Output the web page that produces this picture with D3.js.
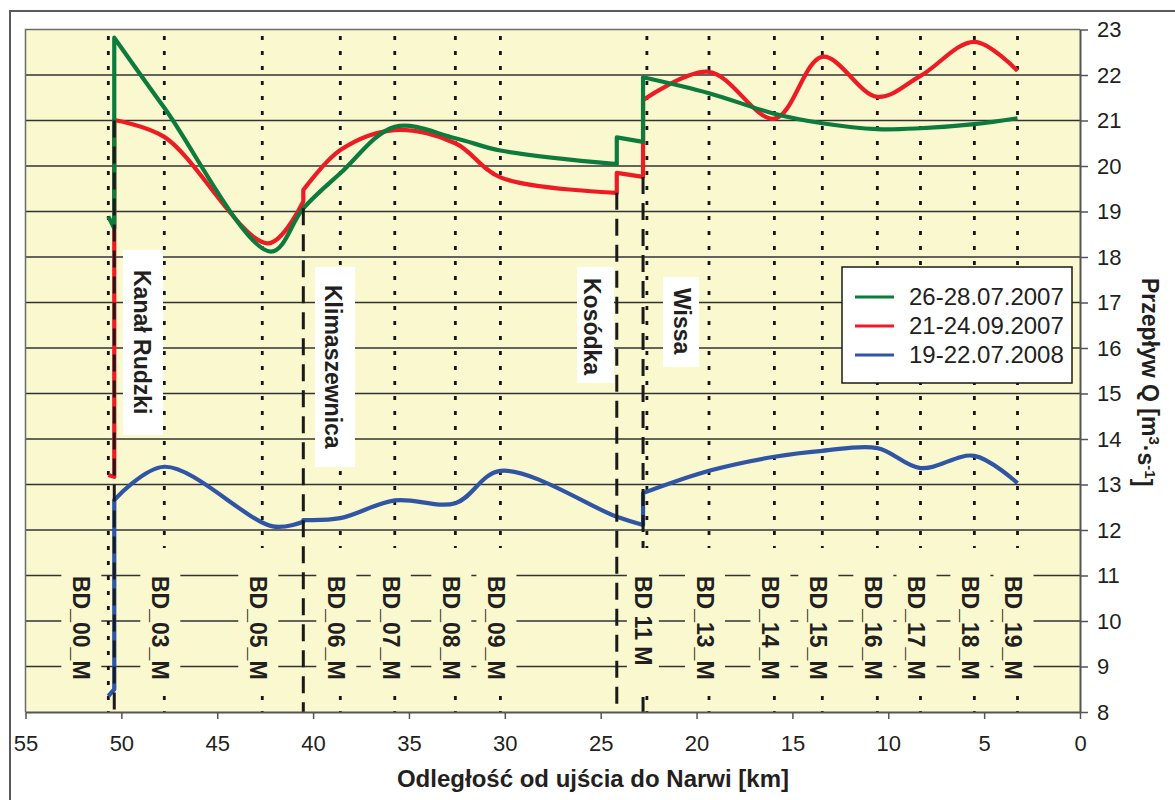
<!DOCTYPE html>
<html>
<head>
<meta charset="utf-8">
<script src="https://cdn.jsdelivr.net/npm/d3@7"></script>
<style>
body { margin: 0; background: #fff; }
svg { display: block; }
text { font-family: "Liberation Sans", Arial, sans-serif; fill: #231f20; }
</style>
</head>
<body>
<div id="chart"></div>
<script>
// measuring stations, km from the mouth to Narew
var stationNames = ["BD_00_M","BD_03_M","BD_05_M","BD_06_M","BD_07_M","BD_08_M","BD_09_M","BD 11 M","BD_13_M","BD_14_M","BD_15_M","BD_16_M","BD_17_M","BD_18_M","BD_19_M"];
var stationKm = [50.68, 47.76, 42.65, 38.58, 35.74, 32.58, 30.23, 22.59, 19.35, 15.94, 13.44, 10.57, 8.32, 5.51, 3.26];

// tributaries
var tributaryNames = ["Kanał Rudzki", "Klimaszewnica", "Kosódka", "Wissa"];
var tributaryKm = [50.37, 40.51, 24.16, 22.79];
var tributaryTopQ = [21.0, 19.07, 19.41, 19.76];

var seriesNames = ["26-28.07.2007", "21-24.09.2007", "19-22.07.2008"];

var kmGreen = [50.68, 50.37, 50.37, 47.76, 42.2, 40.51, 38.58, 35.74, 32.58, 30.23, 24.16, 24.16, 22.79, 22.79, 19.35, 15.94, 13.44, 10.57, 8.32, 5.51, 3.26];
var qGreen  = [18.89, 18.63, 22.82, 21.28, 18.12, 19.07, 19.84, 20.86, 20.61, 20.34, 20.04, 20.63, 20.53, 21.95, 21.6, 21.15, 20.94, 20.81, 20.83, 20.92, 21.05];

var kmRed = [50.68, 50.37, 50.37, 47.76, 42.35, 40.51, 40.51, 38.58, 35.74, 32.58, 30.23, 24.16, 24.16, 22.79, 22.79, 19.35, 15.94, 13.44, 10.57, 8.32, 5.51, 3.26];
var qRed  = [13.21, 13.17, 21.01, 20.64, 18.3, 19.22, 19.47, 20.35, 20.79, 20.5, 19.75, 19.41, 19.85, 19.76, 21.45, 22.07, 21.04, 22.4, 21.52, 21.98, 22.73, 22.09];

var kmBlue = [50.68, 50.37, 50.37, 47.76, 42.1, 40.51, 40.51, 38.58, 35.74, 32.58, 30.23, 24.16, 22.79, 22.79, 19.35, 15.94, 13.44, 10.57, 8.32, 5.51, 3.26];
var qBlue  = [8.35, 8.5, 12.66, 13.39, 12.08, 12.18, 12.22, 12.26, 12.65, 12.59, 13.3, 12.29, 12.11, 12.81, 13.3, 13.61, 13.74, 13.8, 13.36, 13.63, 13.03];

var xTicks = [55, 50, 45, 40, 35, 30, 25, 20, 15, 10, 5, 0];
var yTicks = [8, 9, 10, 11, 12, 13, 14, 15, 16, 17, 18, 19, 20, 21, 22, 23];

var width = 1175, height = 800;
var plotLeft = 25.5, plotRight = 1080, plotTop = 29.5, plotBottom = 712;
var colors = ["#0d7b3b", "#ed1c24", "#2f55a4"];
var plotFill = "#faf8cf";

var svg = d3.select("#chart").append("svg")
    .attr("width", width)
    .attr("height", height);

// outer frame
svg.append("rect")
    .attr("x", 10).attr("y", 11)
    .attr("width", 1200).attr("height", 820)
    .attr("fill", "white")
    .attr("stroke", "#5a5a5a")
    .attr("stroke-width", 2);

var x = d3.scaleLinear().domain([55, 0]).range([plotLeft, plotRight]);
var y = d3.scaleLinear().domain([8, 23]).range([plotBottom, plotTop]);

svg.append("rect")
    .attr("x", plotLeft).attr("y", plotTop)
    .attr("width", plotRight - plotLeft).attr("height", plotBottom - plotTop)
    .attr("fill", plotFill);

// horizontal grid
svg.append("g").selectAll("line")
    .data(yTicks.filter(function(v){ return v > 8 && v < 23; }))
    .enter().append("line")
    .attr("x1", plotLeft).attr("x2", plotRight)
    .attr("y1", function(d){ return y(d); })
    .attr("y2", function(d){ return y(d); })
    .attr("stroke", "#333")
    .attr("stroke-width", 1.3);

// plot border top / left
svg.append("path")
    .attr("d", "M" + plotLeft + "," + plotBottom + "V" + plotTop + "H" + plotRight)
    .attr("fill", "none")
    .attr("stroke", "#6b6b6b")
    .attr("stroke-width", 1.5);

// station lines (dotted)
svg.append("g").selectAll("line")
    .data(stationKm)
    .enter().append("line")
    .attr("x1", function(d){ return x(d); })
    .attr("x2", function(d){ return x(d); })
    .attr("y1", 36).attr("y2", plotBottom)
    .attr("stroke", "#151515")
    .attr("stroke-width", 2.8)
    .attr("stroke-dasharray", "4,11");

// series
var lineGen = d3.line()
    .x(function(d){ return x(d[0]); })
    .y(function(d){ return y(d[1]); })
    .curve(d3.curveCatmullRom.alpha(0.5));

function seriesPath(km, q) {
    var pieces = [], cur = [];
    km.forEach(function(k, i) {
        if (i > 0 && k === km[i - 1]) { pieces.push(cur); cur = []; }
        cur.push([k, q[i]]);
    });
    pieces.push(cur);
    return pieces.map(function(p, i) {
        var s = lineGen(p).replace(/Z$/, "");
        return i === 0 ? s : "L" + s.slice(1);
    }).join("");
}

var seriesData = [[kmBlue, qBlue, 2], [kmRed, qRed, 1], [kmGreen, qGreen, 0]];
svg.append("g").selectAll("path")
    .data(seriesData)
    .enter().append("path")
    .attr("d", function(d){ return seriesPath(d[0], d[1]); })
    .attr("fill", "none")
    .attr("stroke", function(d){ return colors[d[2]]; })
    .attr("stroke-width", 4.2)
    .attr("stroke-linejoin", "round");

// tributary lines (dashed)
svg.append("g").selectAll("line")
    .data(tributaryKm)
    .enter().append("line")
    .attr("x1", function(d){ return x(d); })
    .attr("x2", function(d){ return x(d); })
    .attr("y1", function(d, i){ return y(tributaryTopQ[i]); })
    .attr("y2", plotBottom)
    .attr("stroke", "#1a1a1a")
    .attr("stroke-width", 3)
    .attr("stroke-dasharray", "17,9");

// station labels with background boxes (drawn over the lines)
var stationGroup = svg.append("g");
stationKm.forEach(function(k, i) {
    var cx = x(k) + (i == 0 ? -27 : -4);
    var half = (i == 7) ? 16 : 20;
    stationGroup.append("rect")
        .attr("x", cx - half).attr("y", 548)
        .attr("width", half * 2).attr("height", 147)
        .attr("fill", plotFill);
    stationGroup.append("text")
        .attr("transform", "translate(" + cx + ",576) rotate(90)")
        .attr("dy", "0.35em")
        .style("font-size", "23px")
        .style("font-weight", "bold")
        .text(stationNames[i]);
});

// tributary label boxes: [text x, box left, box right, box top, box bottom, text start]
var tribLayout = [
    [141.7, 123, 163, 250, 435, 270],
    [333.3, 315, 355, 267, 467, 285],
    [592.3, 577, 614, 267, 383, 278],
    [681.7, 663, 699, 277, 367, 288]
];
var tribGroup = svg.append("g");
tributaryNames.forEach(function(name, i) {
    var l = tribLayout[i];
    tribGroup.append("rect")
        .attr("x", l[1]).attr("y", l[3])
        .attr("width", l[2] - l[1]).attr("height", l[4] - l[3])
        .attr("fill", "white");
    tribGroup.append("text")
        .attr("transform", "translate(" + l[0] + "," + l[5] + ") rotate(90)")
        .attr("dy", "0.35em")
        .style("font-size", "23px")
        .style("font-weight", "bold")
        .text(name);
});

// axes
var xAxis = svg.append("g")
    .attr("transform", "translate(0," + plotBottom + ")")
    .call(d3.axisBottom(x).tickValues(xTicks).tickSize(7).tickSizeOuter(0).tickPadding(16.4).tickFormat(d3.format("d")));
xAxis.select(".domain").attr("stroke", "#555").attr("stroke-width", 2);
xAxis.selectAll(".tick line").attr("stroke", "#555").attr("stroke-width", 1.5);
xAxis.selectAll(".tick text")
    .attr("fill", "#231f20")
    .style("font-family", "Liberation Sans, Arial, sans-serif")
    .style("font-size", "22px");

var yAxis = svg.append("g")
    .attr("transform", "translate(" + plotRight + ",0)")
    .call(d3.axisRight(y).tickValues(yTicks).tickSize(8).tickSizeOuter(0).tickPadding(9).tickFormat(d3.format("d")));
yAxis.select(".domain").attr("stroke", "#555").attr("stroke-width", 2);
yAxis.selectAll(".tick line").attr("stroke", "#555").attr("stroke-width", 1.5);
yAxis.selectAll(".tick text")
    .attr("fill", "#231f20")
    .style("font-family", "Liberation Sans, Arial, sans-serif")
    .style("font-size", "22px");

// axis titles
svg.append("text")
    .attr("x", 593).attr("y", 787)
    .attr("text-anchor", "middle")
    .style("font-size", "24px")
    .style("font-weight", "bold")
    .text("Odległość od ujścia do Narwi [km]");

var yTitle = svg.append("text")
    .attr("transform", "translate(1150,278) rotate(90)")
    .attr("dy", "0.35em")
    .style("font-size", "23px")
    .style("font-weight", "bold");
yTitle.append("tspan").text("Przepływ Q [m");
yTitle.append("tspan").attr("dy", "-0.45em").style("font-size", "15px").text("3");
yTitle.append("tspan").attr("dy", "0.45em").text("·s");
yTitle.append("tspan").attr("dy", "-0.45em").style("font-size", "15px").text("-1");
yTitle.append("tspan").attr("dy", "0.45em").text("]");

// legend
var legend = svg.append("g");
legend.append("rect")
    .attr("x", 842).attr("y", 267)
    .attr("width", 230).attr("height", 116)
    .attr("fill", "white")
    .attr("stroke", "#1a1a1a")
    .attr("stroke-width", 1.5);
seriesNames.forEach(function(name, i) {
    var ly = 297 + i * 29;
    legend.append("line")
        .attr("x1", 855).attr("x2", 894)
        .attr("y1", ly).attr("y2", ly)
        .attr("stroke", colors[i])
        .attr("stroke-width", 3);
    legend.append("text")
        .attr("x", 909).attr("y", ly)
        .attr("dy", "0.35em")
        .style("font-size", "24px")
        .text(name);
});
</script>
</body>
</html>
